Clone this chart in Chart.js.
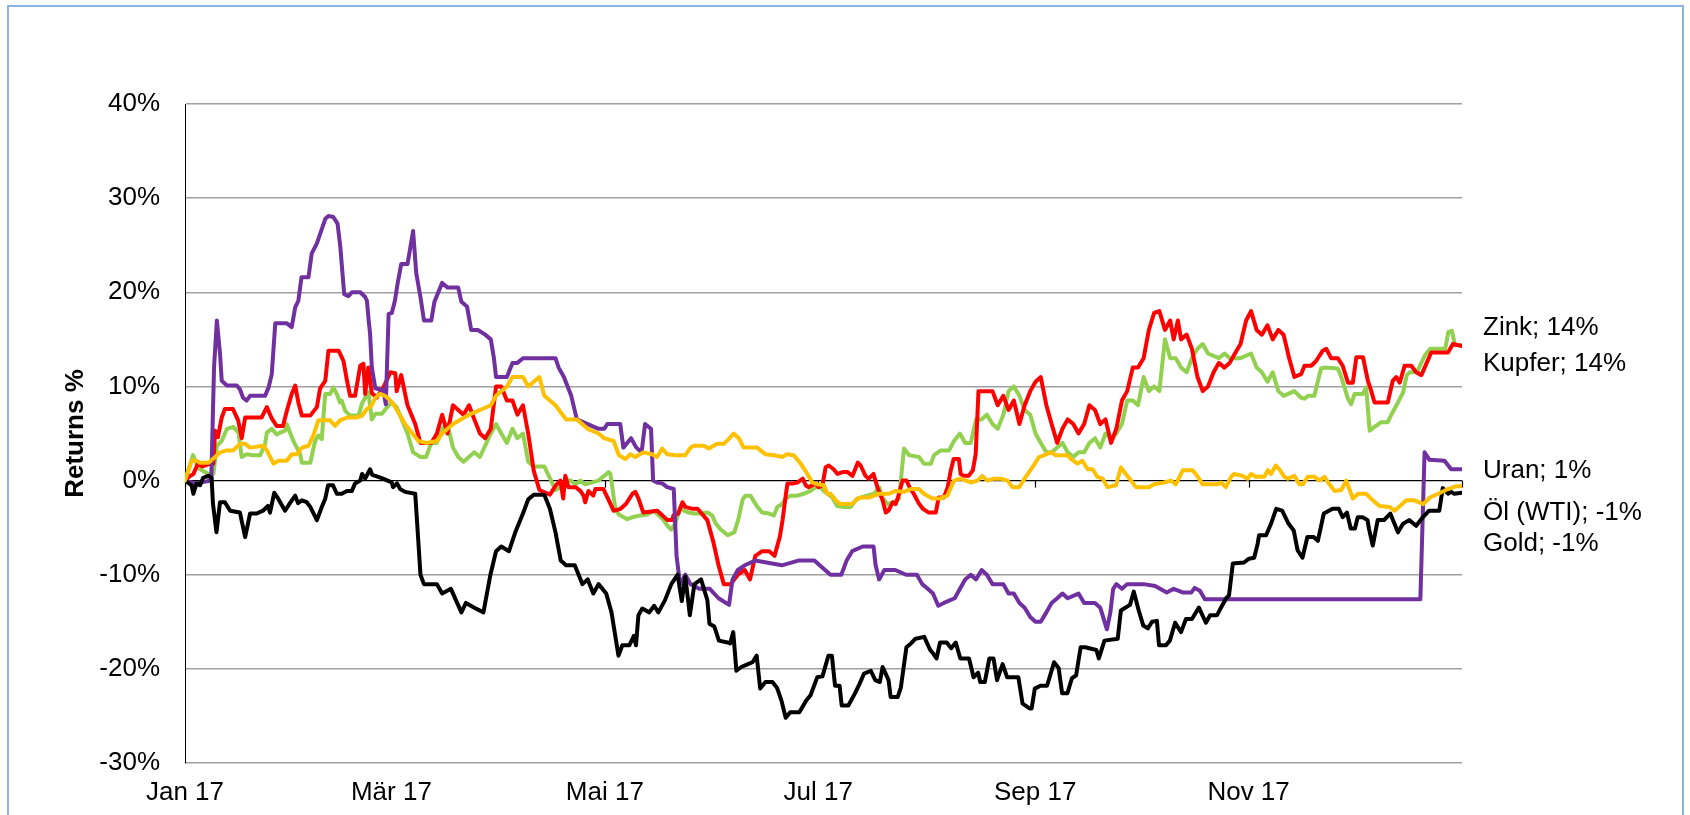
<!DOCTYPE html>
<html lang="de">
<head>
<meta charset="utf-8">
<title>Rohstoffe 2017 - Returns %</title>
<script src="https://cdn.jsdelivr.net/npm/chart.js@4.4.1/dist/chart.umd.min.js"></script>
<style>
  html, body { margin: 0; padding: 0; background: #fff; overflow: hidden; }
  #frame { position: absolute; left: 7px; top: 5px; width: 1673px; height: 830px; border: 2px solid #8db3e2; background: #fff; }
  #chart { display: block; }
</style>
</head>
<body>
<div id="frame"><canvas id="chart" width="1673" height="830"></canvas></div>
<script>
// x = day of year 2017 (0 = 1 Jan), y = return since start in %
const monthTicks = [0, 59, 120, 181, 243, 304, 365];
const monthLabels = ['Jan 17', 'Mär 17', 'Mai 17', 'Jul 17', 'Sep 17', 'Nov 17', ''];
const yTicks = [-30, -20, -10, 0, 10, 20, 30, 40];

const zink = [[0,0],[1.5,0.5],[2.4,0.7],[3.7,1.8],[5,1.5],[7.2,1.8],[8.1,1.8],[8.6,5.3],[9.4,4.6],[10.5,6.7],[11.4,7.6],[13.7,7.6],[15.2,6.4],[16.2,4.5],[17.2,6.7],[21.9,6.7],[23.4,7.8],[24.8,6.6],[26.2,5.8],[28,5.8],[29.1,7.4],[30.5,9.2],[31.5,10.1],[32.4,8.3],[33.4,6.9],[35.8,6.9],[37.7,7.8],[38.6,9.8],[40.1,10.6],[41,13.8],[43.9,13.8],[45.3,12.7],[46.3,10.6],[47.2,9],[48.6,9],[50.1,12.2],[51,12.4],[51.5,9.2],[52.4,12],[53.4,9.3],[54.8,8.8],[56.7,9.9],[58.7,11.5],[60.1,11.4],[60.5,9.5],[61.8,11.2],[63.6,8],[65.8,6],[67.3,4],[70.4,4],[72,5],[73.5,7],[75,5],[76.6,8],[78.1,7.5],[79.6,7],[81.2,8],[82.7,6.5],[84.3,5],[85.8,4.5],[87.4,5.5],[88.9,10],[90.4,10],[92,8.5],[93.6,8.5],[95,7],[96.6,8],[98.1,5],[99.7,1],[101.3,-1],[104.3,-1.5],[106,-0.5],[107.3,0],[108.1,-1.9],[108.7,0.5],[109.6,-0.7],[111.6,-0.7],[113,-1.1],[113.9,-1.6],[114.4,-2.3],[115.3,-1.1],[116.7,-1.6],[117.3,-0.9],[119.6,-0.9],[121,-2],[122.5,-3.2],[124.5,-3],[126,-2.5],[127.9,-1.4],[128.7,-1.2],[129.6,-1.9],[131,-3.4],[135,-3.2],[137.9,-4.2],[139.3,-4.2],[139.6,-3.7],[141,-3.5],[142.2,-2.3],[143,-2.8],[145.1,-3],[146.5,-3],[149.3,-4.2],[151,-6.5],[152.5,-9],[154,-11],[156,-11],[158,-10],[160,-9.5],[161.5,-10.5],[163,-8],[165,-7.5],[167,-7.5],[168.5,-8],[170,-6],[170.8,-4.2],[171.7,-1.6],[172.2,-0.3],[174,-0.3],[175.1,-0.2],[176.6,0.2],[177.4,-0.5],[178.2,-0.7],[180.2,-0.3],[181.1,-0.7],[182.2,-0.5],[183.1,1.4],[184,1.6],[185.4,1.2],[186.5,0.7],[188,0.9],[189.4,0.9],[190.8,0.5],[192.3,1.9],[193.1,1.6],[194.5,0.5],[195.4,0.2],[196.8,0.7],[197.9,-0.7],[199.4,-2.1],[200.3,-3.4],[201.1,-3.2],[202.3,-2.3],[203.1,-2.5],[203.7,-1.9],[205.1,0],[206.2,0],[207.4,-0.9],[208.3,-1.4],[209.7,-2.4],[210.9,-3],[212.6,-3.4],[214.6,-3.4],[215.4,-1.8],[216.9,-1.8],[218,-0.7],[218.9,1.1],[219.7,2.3],[221.2,2.3],[221.7,0.7],[222.6,0.5],[224,0.5],[225.2,1.1],[226,2.8],[226.8,9.5],[230.8,9.5],[232.3,8],[233.9,9],[235.4,7.5],[236.9,8.5],[238.5,6],[240,8],[241.6,9.5],[243.1,10.5],[244.6,11],[246.2,8],[247.7,6],[249.3,4],[250.8,5.5],[252.3,6.5],[253.9,6],[255.4,5],[257,6],[258.5,8],[260.1,7.5],[261.6,6],[263.1,6.5],[264.7,4],[266.2,5.5],[267.8,8.5],[269.3,9.5],[270.9,12],[272.4,12],[274,13],[275.5,16],[277,17.8],[278.5,18],[280.1,16],[281.6,17],[282.6,15],[283.8,17],[284.7,15],[286.3,15.5],[287.8,14],[289.4,11],[290.9,9.5],[292.4,10],[294,11.5],[295.5,12.5],[297.1,12],[298.6,12.5],[300.1,13.5],[301.7,14.5],[303.3,17],[304.7,18],[306.3,16],[307.8,15.5],[309.4,16.5],[310.9,15],[312.5,16],[314,15.5],[315.6,13],[317.1,11],[319,11.3],[320,12.2],[321.9,12.2],[323.3,12.7],[325.2,13.8],[326.2,14],[327.6,13],[329.5,13],[330.9,12.2],[332.4,10.4],[333.8,10.4],[334.8,13.1],[336.7,13.1],[338.1,10.6],[339,9.6],[340,8.3],[343.8,8.3],[345.2,10.6],[346.2,11],[347.2,10.4],[348.6,12.2],[350.5,12.2],[351.9,11.5],[353.4,11.2],[356.2,13.6],[361,13.6],[362.4,14.5],[365,14.3]];

const kupfer = [[0,0],[2.3,2.7],[3.3,1.8],[4.3,1.2],[6.7,0.7],[8.1,0.7],[9.1,3.7],[10.5,4.2],[12,5.5],[13.8,5.7],[15.3,5.1],[16.2,2.5],[17.6,2.8],[19.5,2.7],[21.5,2.7],[22.9,3.9],[23.4,5.1],[24.8,5.5],[26.2,4.9],[27.2,5.1],[28.6,5.3],[29.1,6],[30,5.1],[31,4.2],[32.9,2.8],[33.4,1.9],[35.8,1.9],[37.2,4.2],[38.1,4.8],[39.1,4.4],[39.8,8],[40.1,9.2],[41.5,9.2],[42.4,9.9],[43.4,9.2],[44.3,8.3],[44.8,8.5],[45.8,7.4],[47.2,6.9],[49.6,6.9],[50.6,8.2],[51.5,8.8],[52.4,9.4],[53.4,6.5],[54.4,7.1],[56.3,7.1],[58.2,8],[59.1,8.3],[60.5,7.8],[61.5,6.9],[63.6,5],[65.2,3],[67.3,2.5],[68.9,2.5],[70.4,4],[72,4],[73.5,5.5],[75,6],[76.6,3.5],[78.1,2.5],[79.6,2],[82.7,3],[84.3,2.5],[87.4,5],[88.9,6],[90.4,5],[92,4],[93.6,5.5],[95,4.5],[96.6,5],[98.1,2],[99.7,1.5],[102.7,1.5],[105.9,-1],[107.3,-0.7],[108.7,0],[110.2,0],[111.6,-0.4],[113,0],[114.4,-0.4],[118.2,0],[121.1,0.9],[121.6,0.7],[123,-3],[124,-3.6],[126.4,-4.1],[127.8,-3.9],[130.2,-3.7],[132.1,-3.6],[134,-3.2],[135.4,-3.7],[136.8,-4.2],[137.9,-4.8],[139,-5.2],[140.2,-4.5],[141.6,-2.8],[142.6,-3.2],[144,-3.4],[145.4,-3.5],[147.8,-3.5],[149.3,-3.4],[150.7,-3.7],[151.6,-4.5],[153.1,-5.2],[155.1,-5.8],[157,-5.5],[158.1,-4.2],[159.4,-2],[160.2,-1.6],[161.6,-1.6],[163.6,-2.8],[165,-3.4],[166.9,-3.5],[168.3,-3.7],[169.3,-2.8],[170.7,-2.5],[171.7,-1.9],[173.1,-1.6],[175,-1.6],[176.9,-1.4],[178.8,-1.1],[180.2,-0.7],[181.6,-0.7],[182.6,-1.1],[185,-1.8],[186.4,-2.7],[188.3,-2.8],[190.3,-2.8],[191.7,-2.1],[193.1,-1.8],[195,-1.6],[197,-1.4],[198.4,-0.7],[199.3,-1.8],[200.8,-2.5],[202.7,-2.3],[204.1,-1.9],[205.5,3.4],[207,2.7],[209.8,2.5],[211.2,1.8],[213.2,1.8],[214.1,2.7],[216,3.2],[218.4,3.2],[219.8,4.2],[221.5,5],[223,4],[224.6,4],[226.1,6.5],[227.7,6.5],[229.2,7],[230.8,6],[232.3,5.5],[233.9,7],[235.4,9.5],[236.9,10],[238.5,9],[240,7.5],[241.6,7],[243.1,5],[244.6,4],[246.2,3],[247.7,3],[249.3,3.5],[250.8,4],[252.3,3],[253.9,2.5],[255.4,3],[257,3],[258.5,4],[260.1,4.5],[261.6,3.5],[263.1,5],[264.7,4.5],[266.2,5],[267.8,6],[269.3,8.5],[270.9,8.5],[272.4,8],[274,11],[275.5,9.5],[277,10],[278.5,9.5],[280.1,15],[281.6,13],[283.2,13],[284.7,12],[286.3,11.5],[287.8,13],[289.4,14],[290.9,14.5],[292.4,13.5],[295.5,13],[297.1,13.5],[298.6,13],[301.7,13],[304.7,13.5],[306.3,12],[307.8,11.5],[309.4,10.5],[310.9,11.5],[312.5,9.5],[314,9],[317.1,9.5],[319,8.8],[320,8.7],[321,9],[322.8,9],[324.7,11.9],[325.7,12],[329.5,11.9],[330.5,11],[331.4,9.9],[332.4,8.7],[333.3,8.1],[334.3,9.2],[336.7,9.2],[337.6,9.9],[338.6,5.3],[340,5.7],[341.9,6.2],[343.8,6.2],[344.8,7],[346.7,8.3],[348.2,9.4],[349.2,11.2],[350.1,11.5],[352.1,11.5],[353,12.2],[354.4,13.3],[355.9,14],[360.2,14],[361.1,15.8],[362.1,15.9],[363,14.4],[365,14.4]];

const uran = [[0,0],[3,-0.3],[7.5,0],[8.3,12],[9.1,17],[10,13.5],[10.5,10.6],[12,10.1],[14.8,10.1],[15.7,9.7],[16.6,8.8],[17.6,8.5],[18.6,9],[22.9,9],[23.9,9.9],[24.8,11.3],[25.8,16.7],[29.1,16.7],[30.5,16.3],[31.5,18.4],[32.4,19.1],[33.3,21.6],[35.3,21.6],[36.2,24.1],[37.7,25.2],[40.1,27.8],[41,28.1],[42.4,28],[43.6,27.3],[44.4,24.8],[45.5,19.8],[46.7,19.6],[47.7,20],[50.1,20],[51.5,19.5],[52,19.1],[52.5,17],[52.9,15.6],[53.4,12],[54.4,9.8],[56.7,9.6],[57.4,8.1],[58.2,17.7],[59.1,17.8],[60,19.1],[60.8,21],[61.8,23],[63.6,23],[65.2,26.5],[66.1,22],[67.3,19.5],[68.3,17],[70.4,17],[71.3,19],[73.5,21],[75,20.5],[78.1,20.5],[79,19],[80.6,18.5],[81.8,16],[83.7,16],[85.8,15.5],[87.4,15],[88.3,13],[88.9,11],[92,11],[93.6,12.5],[95,12.5],[96.6,13],[105.9,13],[106.8,12],[108.3,11],[110.4,9],[112,6.5],[115.1,6],[118.2,5.5],[119.8,5.5],[120.7,6],[124.4,6],[125.3,3.5],[127.5,4.5],[129,3.5],[130.5,3],[131.5,6],[133.2,5.5],[133.8,0],[134.9,-0.2],[136.4,-0.3],[137.8,-0.7],[139.7,-0.9],[140.5,-8],[141.5,-11],[143,-10],[144.5,-11],[147,-11.5],[150,-11.5],[152.5,-12.5],[155.5,-13.2],[156.5,-10.5],[158,-9.5],[160,-9],[163,-8.5],[170.6,-9],[175.3,-8.5],[179.9,-8.5],[181.4,-9],[184.5,-10],[187.6,-10],[189.1,-8.5],[190.7,-7.5],[193.7,-7],[196.8,-7],[197.4,-9],[198.4,-10.5],[199.9,-9.5],[203,-9.5],[206.1,-10],[209.2,-10],[210.7,-11],[212.3,-11.5],[213.8,-12],[215.3,-13.3],[216.9,-13],[220,-12.5],[221.5,-11.5],[223,-10.5],[224.6,-10],[226.1,-10.5],[227.7,-9.5],[229.2,-10],[230.8,-11],[233.9,-11],[235.4,-12],[236.9,-12],[238.5,-13],[240,-13.5],[241.6,-14.5],[243.1,-15],[244.6,-15],[246.2,-14],[247.7,-13],[249.3,-12.5],[250.8,-12],[252.3,-12.5],[255.4,-12],[257,-13],[260.1,-13],[261.6,-13.5],[263.5,-15.8],[264.5,-14],[265.3,-11.5],[266.2,-11],[267.8,-11.5],[269.3,-11],[274,-11],[277.3,-11.2],[280.6,-11.9],[282.6,-11.5],[285.3,-11.9],[287.6,-11.9],[288.6,-11.4],[290.1,-11.7],[291.5,-12.6],[353.1,-12.6],[354.3,3],[355.7,2.2],[360,2.1],[361.9,1.2],[365,1.2]];

const oel = [[0,0],[1.9,-0.5],[2.4,-1.4],[3.3,-0.3],[4.3,-0.5],[5.2,0.3],[6.6,0.5],[7.6,0.3],[8,-2.5],[9,-5.5],[10,-2.3],[11.4,-2.3],[12.9,-3.2],[15.7,-3.4],[17.2,-6],[18.6,-3.5],[20.5,-3.5],[22.3,-3.2],[23.7,-2.7],[24.3,-3.4],[25.5,-1.3],[26.6,-1.9],[28.6,-3.2],[30,-2.4],[31.5,-1.6],[32.3,-2.4],[33.4,-2.1],[34.8,-2.3],[35.8,-2.8],[37.7,-4.2],[39.1,-2.8],[40.1,-1.9],[40.9,-0.5],[42.3,-0.5],[43.4,-1.4],[44.8,-1.4],[46.3,-1.1],[47.7,-1.1],[48.6,-0.3],[50.1,0],[50.6,0.7],[51.5,0.2],[52.9,1.2],[53.5,0.6],[54.4,0.5],[56.6,0.2],[59.1,-0.2],[59.5,-0.7],[60.6,-0.3],[61.5,-0.9],[62.9,-1.2],[65.8,-1.4],[66.3,-4.2],[67.3,-10],[68.3,-11],[72,-11],[73.5,-12],[76,-11.5],[79,-14],[80.3,-13],[82.7,-13.5],[85.3,-14],[87.3,-10],[88.9,-7.5],[90.4,-7],[92.6,-7.5],[94.4,-5.5],[96.6,-3.5],[98.1,-2],[99.7,-1.5],[102.7,-1.5],[104.3,-3],[105.9,-5.5],[107.4,-8.5],[108.9,-9],[111.4,-9],[113.6,-11],[115.1,-10.5],[116.7,-12],[118.2,-11],[120.4,-12],[121.9,-14],[123.9,-18.6],[125,-17.5],[127,-17.5],[128.3,-16.5],[128.9,-17.5],[129.6,-14.3],[130.7,-13.6],[132.7,-14],[134.1,-13.3],[135.3,-14],[137.2,-12.7],[139,-11],[140.8,-10],[142,-12.8],[143,-10.2],[144.3,-14.3],[145.6,-11],[147.5,-10.5],[149.3,-12.7],[149.9,-15.2],[151.3,-15.5],[152.6,-17],[155.1,-17.2],[155.8,-17.3],[156.7,-16.1],[157.6,-20.2],[159,-19.8],[160.9,-19.5],[162.2,-19.3],[163.4,-18.6],[164.4,-22.1],[165.9,-21.4],[167.9,-21.4],[169.2,-22],[170.5,-23.4],[171.7,-25.2],[173,-24.6],[175.6,-24.6],[177.5,-23.4],[178.8,-22.8],[180.7,-20.9],[182.2,-20.8],[183.9,-18.6],[184.9,-18.6],[185.8,-21.8],[187.1,-21.8],[187.7,-23.9],[189.6,-23.9],[191.5,-22.6],[192.8,-21.6],[194.1,-20.5],[196,-20.2],[197.3,-21.2],[198.6,-21.4],[199.4,-19.8],[201.1,-21.2],[201.7,-23],[203.7,-23],[204.6,-22],[206.2,-17.7],[207.5,-17.3],[208.8,-16.8],[211.3,-16.6],[213,-18],[213.9,-18.4],[214.8,-18.9],[215.8,-17.2],[217.7,-17.2],[219,-17.8],[220.3,-17.2],[221.6,-18.9],[224.1,-18.9],[225.4,-20.9],[226.7,-20.4],[227.3,-21.4],[228.6,-21.4],[229.9,-18.9],[231.1,-18.9],[232.1,-21.2],[233.7,-19.5],[235,-20.9],[238.2,-20.9],[239.4,-23.7],[241.4,-24.2],[242,-24.2],[242.9,-22.1],[244.5,-21.8],[246.4,-21.8],[248.4,-19.3],[249.7,-19.9],[250.7,-22.6],[252.2,-22.6],[253.5,-21],[254.7,-20.7],[256,-17.7],[257.3,-17.7],[260.5,-18],[261.2,-18.9],[262.8,-17],[266.6,-16.8],[267.5,-13.8],[270.1,-13.2],[271.2,-11.8],[272.6,-13.8],[273.9,-15.4],[275.2,-15.7],[276.4,-15],[277.8,-14.9],[278.4,-17.5],[280.4,-17.5],[281.5,-17],[283,-15.1],[284.7,-16.1],[286.1,-14.7],[287.8,-14.7],[289.8,-13.5],[291.8,-15.1],[293,-14.3],[295,-14.3],[296.1,-13.5],[297.6,-12.5],[298.4,-12.2],[299.5,-8.8],[302.7,-8.7],[304.1,-8.3],[305.6,-8.2],[306.6,-6.7],[307,-5.8],[309,-5.8],[310.5,-4.5],[311.9,-3],[313.6,-3.2],[315.3,-4.5],[316.9,-5.3],[318,-7.4],[319.4,-8.2],[320.8,-6],[322.6,-6],[323.8,-6.4],[325.5,-3.5],[328,-3],[329.8,-3],[330.9,-3.9],[332.1,-3.4],[333.2,-5.1],[334.4,-5.1],[335.2,-3.9],[336.6,-3.9],[338,-4.2],[338.4,-5.1],[339.5,-6.9],[340.9,-4.2],[342.7,-4.2],[344.5,-3.5],[346.7,-5.5],[348.1,-4.6],[349.9,-4.2],[351.9,-4.8],[353.8,-3.9],[355.6,-3.2],[358.5,-3.2],[359.5,-0.8],[361,-1.4],[361.9,-1.2],[362.8,-1.4],[365,-1.3]];

const gold = [[0,0],[1.9,2.1],[3.3,2.1],[4.3,1.9],[6.7,1.9],[8.6,2.5],[10,3],[11.9,3.2],[13.8,3.2],[15.7,3.9],[17.2,3.9],[18.6,3.5],[22.4,3.7],[23.4,3.2],[25.3,1.8],[26.7,2.1],[29.1,2.1],[30.5,2.8],[32,2.8],[33.4,3.5],[35.3,3.7],[36.7,4.8],[38.1,6.4],[41.5,6.4],[42.9,5.8],[44.3,6.4],[46.3,6.7],[49.1,6.7],[50.6,6.9],[52,7.6],[53.4,8],[54.4,8.8],[55.8,9.2],[57.2,9],[58.7,8.5],[60.1,7.8],[61.5,6.9],[62.9,6],[65,5],[66.7,4.2],[68.9,4],[72,4.2],[73.5,5],[76.6,6],[81.2,7],[84.3,7.5],[87.4,8],[88.9,9],[92,10],[93.6,11],[96.6,11],[98.1,10],[101.3,11],[102.7,9],[105.9,8],[108.9,6.5],[112,6.5],[115.1,5.5],[118.2,5],[119.8,4.5],[122.5,4.2],[124,2.7],[125.9,2.3],[127.3,2.8],[128.7,2.5],[131.1,3],[133.5,2.8],[134.9,2.5],[136.4,3.4],[137.8,2.8],[140.2,2.7],[143,2.7],[144.5,3.5],[145.4,3.7],[148.3,3.7],[149.7,3.4],[152.1,3.9],[154,3.9],[155.4,4.4],[156.8,5],[158.3,4.5],[159.7,3.5],[163.6,3.5],[164.5,3.2],[165.9,2.8],[168.3,2.7],[170.7,2.5],[172.1,2.8],[174,2.7],[176,1.8],[177.9,0.7],[179.3,-0.2],[180.7,-0.4],[182.6,-0.5],[183.6,-1.4],[184.5,-1.4],[186,-2.1],[187.4,-2.5],[190.7,-2.5],[192.2,-1.9],[193.6,-1.8],[195.5,-1.8],[196.9,-1.6],[198.4,-1.4],[201.2,-1.4],[203.1,-1.1],[205.5,-1.2],[207.4,-0.9],[209.8,-0.9],[211.2,-1.4],[213.6,-1.9],[216,-1.9],[217.9,-1.6],[219.8,0],[221.7,0.2],[224.6,-0.2],[226.5,0],[227.9,0.5],[229.3,0],[231.2,0.2],[233.2,0.2],[235.1,0],[236.5,-0.7],[238.4,-0.7],[240.3,0.4],[242.2,1.4],[244.1,2.5],[245.6,2.7],[247.5,3],[248.9,2.7],[252.3,2.7],[253.2,2.3],[255.1,1.8],[256.5,2.1],[258,1.2],[259.4,1.2],[260.8,0.4],[262.3,0.2],[263.7,-0.7],[266.1,-0.5],[267.5,1.4],[268.9,0.7],[270.4,0],[271.8,-0.7],[275.5,-0.7],[277,-0.4],[279.9,-0.2],[281.8,0],[283.2,-0.4],[285.2,1.1],[288,1.1],[289.5,0.4],[290.9,-0.4],[295.2,-0.4],[296.1,-0.2],[297.5,-0.7],[299,0.4],[299.9,0.7],[302.3,0.5],[303.7,0.2],[304.7,0.7],[306.1,0.4],[308.5,0.4],[309.5,1.1],[310.4,0.7],[311.8,1.6],[312.8,1.2],[314.2,0.4],[315.2,0.2],[317.1,0.5],[318.5,-0.4],[319.5,-0.4],[320.9,0.4],[322.8,0.4],[324.3,0],[325.7,0.4],[327.1,-0.4],[328.6,-1.1],[330.5,-1],[331.9,0],[333.8,-1.9],[335.3,-1.4],[337.6,-1.4],[339.5,-2.1],[341.4,-2.7],[344.3,-2.8],[345.7,-3.2],[347.6,-2.6],[349.1,-2.1],[351.5,-2.1],[353.9,-2.5],[355.8,-1.8],[358.2,-1.4],[361,-0.9],[363.4,-0.6],[365,-0.6]];

const FONT = '"Liberation Sans", Arial, sans-serif';

// where Excel parked the end-of-series labels (in % on the y axis)
const labelLevels = { 'Zink': 16.25, 'Kupfer': 12.4, 'Uran': 1.06, 'Öl (WTI)': -3.4, 'Gold': -6.7 };

function series(label, points, color) {
  return {
    label: label,
    data: points.map(p => ({ x: p[0], y: p[1] })),
    borderColor: color,
    backgroundColor: color,
    borderWidth: 4,
    borderJoinStyle: 'round',
    borderCapStyle: 'round',
    pointRadius: 0,
    tension: 0,
    fill: false
  };
}

// small tick marks hanging below the 0% axis line
const zeroTicks = {
  id: 'zeroTicks',
  beforeDatasetsDraw(chart) {
    const { ctx, scales: { x, y } } = chart;
    const y0 = y.getPixelForValue(0);
    ctx.save();
    ctx.strokeStyle = '#000';
    ctx.lineWidth = 1.2;
    monthTicks.forEach(d => {
      const px = Math.round(x.getPixelForValue(d)) + 0.5;
      ctx.beginPath();
      ctx.moveTo(px, y0);
      ctx.lineTo(px, y0 + 7);
      ctx.stroke();
    });
    ctx.restore();
  }
};

// y axis title and "Name; last%" labels right of the plot
const sideTexts = {
  id: 'sideTexts',
  afterDatasetsDraw(chart) {
    const { ctx, chartArea, scales: { y } } = chart;
    ctx.save();
    ctx.fillStyle = '#000';
    ctx.font = 'bold 26px ' + FONT;
    ctx.textAlign = 'center';
    ctx.textBaseline = 'middle';
    ctx.translate(67, (chartArea.top + chartArea.bottom) / 2);
    ctx.rotate(-Math.PI / 2);
    ctx.fillText('Returns %', 0, 0);
    ctx.restore();

    ctx.save();
    ctx.font = '26px ' + FONT;
    ctx.fillStyle = '#000';
    ctx.textAlign = 'left';
    ctx.textBaseline = 'middle';
    chart.data.datasets.forEach(ds => {
      const last = ds.data[ds.data.length - 1].y;
      ctx.fillText(ds.label + '; ' + Math.round(last) + '%', chartArea.right + 21, y.getPixelForValue(labelLevels[ds.label]));
    });
    ctx.restore();
  }
};

new Chart(document.getElementById('chart'), {
  type: 'line',
  data: {
    datasets: [
      series('Gold', gold, '#ffc000'),
      series('Öl (WTI)', oel, '#000000'),
      series('Uran', uran, '#7030a0'),
      series('Zink', zink, '#ff0000'),
      series('Kupfer', kupfer, '#92d050')
    ]
  },
  options: {
    responsive: false,
    animation: false,
    layout: { padding: { left: 0, top: 97, right: 220, bottom: 24 } },
    plugins: {
      legend: { display: false },
      tooltip: { enabled: false }
    },
    scales: {
      x: {
        type: 'linear',
        min: 0,
        max: 365,
        afterBuildTicks(scale) { scale.ticks = monthTicks.map(v => ({ value: v })); },
        afterFit(scale) { scale.height = 50; },
        ticks: {
          autoSkip: false,
          maxRotation: 0,
          padding: 14,
          color: '#000',
          font: { family: FONT, size: 26 },
          callback: (v, i) => monthLabels[i]
        },
        grid: { display: false, drawTicks: false },
        border: { display: false }
      },
      y: {
        min: -30,
        max: 40,
        afterBuildTicks(scale) { scale.ticks = yTicks.map(v => ({ value: v })); },
        afterFit(scale) { scale.width = 176; },
        ticks: {
          padding: 25,
          color: '#000',
          font: { family: FONT, size: 26 },
          callback: v => v + '%'
        },
        grid: {
          drawTicks: false,
          color: c => c.tick && c.tick.value === 0 ? '#000000' : '#a0a0a0',
          lineWidth: c => c.tick && c.tick.value === 0 ? 1.3 : 1.5
        },
        border: { display: true, color: '#000', width: 1 }
      }
    }
  },
  plugins: [zeroTicks, sideTexts]
});
</script>
</body>
</html>
